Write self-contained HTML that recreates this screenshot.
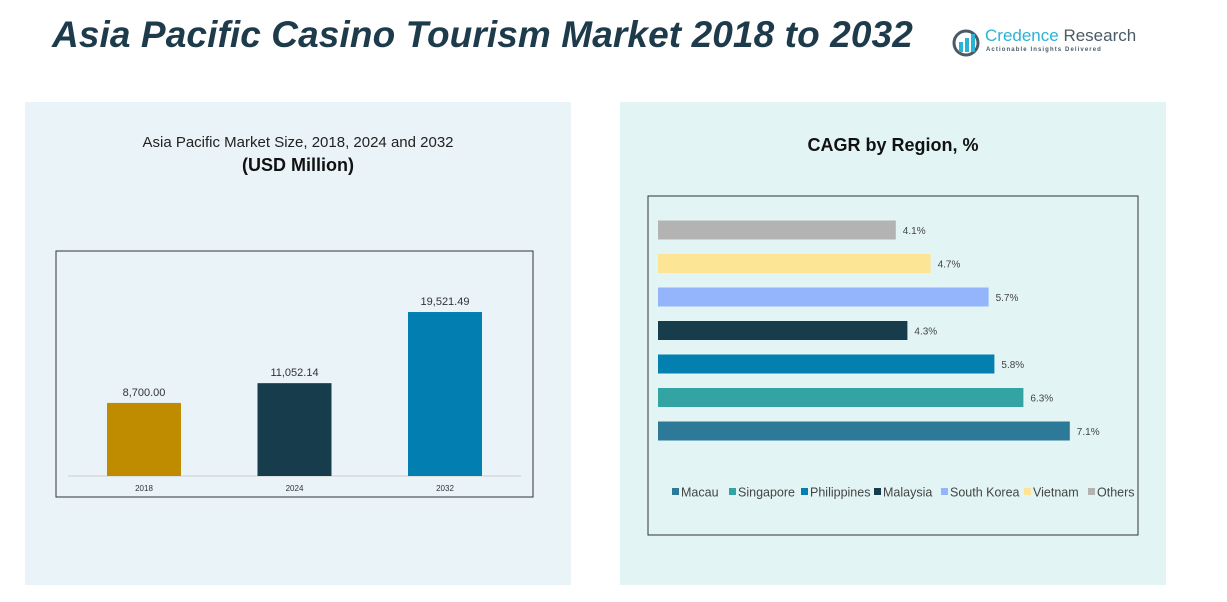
<!DOCTYPE html>
<html><head><meta charset="utf-8"><style>
body{margin:0;width:1227px;height:602px;background:#fff;position:relative;overflow:hidden;font-family:"Liberation Sans",sans-serif}
.abs{position:absolute}
</style></head><body>
<div class="abs" style="left:52px;top:14px;font-size:37px;font-weight:bold;font-style:italic;color:#1d3b4a;white-space:nowrap;letter-spacing:0.1px">Asia Pacific Casino Tourism Market 2018 to 2032</div>
<div class="abs" style="left:952px;top:26px;width:190px;height:34px">
<svg width="32" height="32" class="abs" style="left:0;top:2px"><circle cx="14" cy="15" r="12" fill="none" stroke="#4a5a66" stroke-width="3"/><rect x="7" y="14" width="4" height="10" fill="#2bb3d6"/><rect x="13" y="10" width="4" height="14" fill="#2bb3d6"/><rect x="19" y="6" width="4" height="18" fill="#2bb3d6"/></svg>
<div class="abs" style="left:33px;top:0px;font-size:17px;white-space:nowrap"><span style="color:#2bb3d6">Credence</span> <span style="color:#4a5a66">Research</span></div>
<div class="abs" style="left:34px;top:21px;font-size:6px;letter-spacing:1.1px;color:#4a5a66;font-weight:bold;white-space:nowrap">Actionable Insights Delivered</div>
</div>
<div class="abs" style="left:25px;top:102px;width:546px;height:483px;background:#eaf3f8"></div>
<div class="abs" style="left:620px;top:102px;width:546px;height:483px;background:#e2f4f4"></div>
<div class="abs" style="left:25px;top:134px;width:546px;text-align:center;font-size:15px;color:#222">Asia Pacific Market Size, 2018, 2024 and 2032</div>
<div class="abs" style="left:25px;top:155px;width:546px;text-align:center;font-size:18px;font-weight:bold;color:#111">(USD Million)</div>
<div class="abs" style="left:620px;top:135px;width:546px;text-align:center;font-size:18px;font-weight:bold;color:#111">CAGR by Region, %</div>
<svg class="abs" style="left:0;top:0" width="1227" height="602" id="svg">
<rect x="56" y="251" width="477" height="246" fill="none" stroke="#333"/>
<line x1="68" y1="476" x2="521" y2="476" stroke="#ccc"/>
<rect x="648" y="196" width="490" height="339" fill="none" stroke="#333"/>
</svg>
<script>
const years=["2018","2024","2032"];
const sizes=[8700.00,11052.14,19521.49];
const sizeLabels=["8,700.00","11,052.14","19,521.49"];
const yearColors=["#bf8c00","#173c4c","#027fb0"];
const regions=["Macau","Singapore","Philippines","Malaysia","South Korea","Vietnam","Others"];
const cagr=[7.1,6.3,5.8,4.3,5.7,4.7,4.1];
const regionColors=["#2c7a98","#33a3a3","#0480b0","#173c4c","#94b4fc","#fde596","#b3b3b3"];
const svg=document.getElementById('svg');const NS="http://www.w3.org/2000/svg";
function mk(t,a,txt){const e=document.createElementNS(NS,t);for(const k in a)e.setAttribute(k,a[k]);if(txt!==undefined)e.textContent=txt;svg.appendChild(e);return e;}
const yv=v=>476-v*0.0084, xc=i=>144+i*150.5;
years.forEach((y,i)=>{
 const r=mk('rect',{x:xc(i)-37,y:yv(sizes[i]),width:74,height:476-yv(sizes[i]),fill:yearColors[i]});
 
 
 const t=mk('text',{x:xc(i),y:yv(sizes[i])-7,'text-anchor':'middle','font-size':11,fill:'#333'},sizeLabels[i]);
 
 
 const l=mk('text',{x:xc(i),y:491,'text-anchor':'middle','font-size':8,fill:'#333'},y);
 
 
});
const xw=v=>v*58, yc=i=>431-i*33.5;
regions.forEach((r,i)=>{
 const b=mk('rect',{x:658,y:yc(i)-9.5,width:xw(cagr[i]),height:19,fill:regionColors[i]});
 
 
 const t=mk('text',{x:658+xw(cagr[i])+7,y:yc(i)+4,'font-size':10,fill:'#444'},cagr[i].toFixed(1)+'%');
 
 
});
let lx=672;const lw=[57,72,73,67,83,64,50];
regions.forEach((r,i)=>{
 const s=mk('rect',{x:lx,y:488,width:7,height:7,fill:regionColors[i]});
 
 
 const t=mk('text',{x:lx+9,y:496.5,'font-size':12.5,fill:'#444'},r);
 
 
 lx+=lw[i];
});
</script>
</body></html>
